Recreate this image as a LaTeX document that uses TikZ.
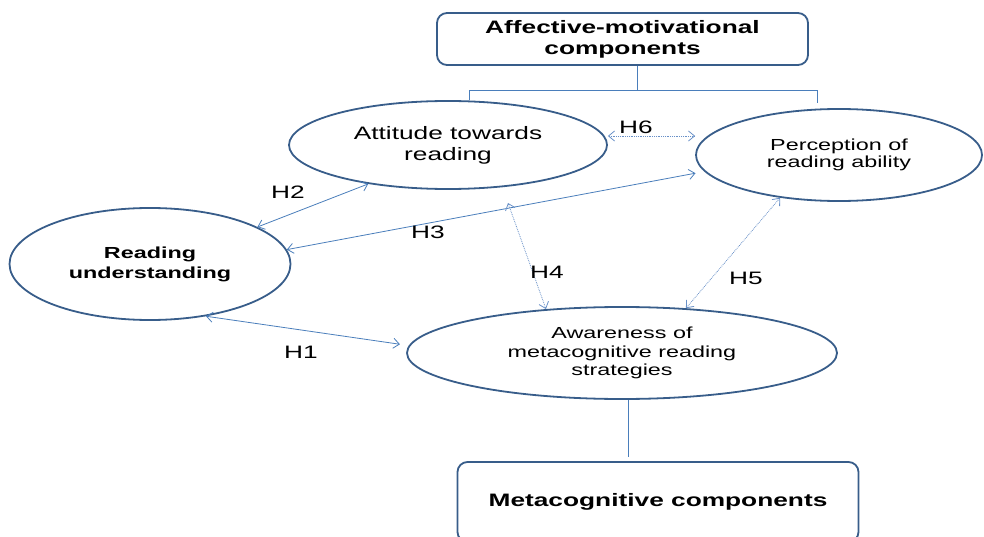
\documentclass[tikz,border=0pt]{standalone}
\usepackage{fontspec}
\setmainfont{Liberation Sans}[FakeStretch=1.46]
\usetikzlibrary{shapes.geometric,arrows.meta}
\definecolor{edgeblue}{RGB}{56,93,138}
\definecolor{linkblue}{RGB}{74,126,187}
\definecolor{dotblue}{RGB}{105,145,200}
\begin{document}
\begin{tikzpicture}[x=1pt,y=-1pt,
  oval/.style={ellipse, draw=edgeblue, line width=1.8pt, inner sep=0pt, align=center, text=black},
  roundbox/.style={draw=edgeblue, line width=1.8pt, rounded corners=10pt, align=center, inner sep=0pt,
    font=\fontsize{18}{21}\selectfont\bfseries},
  link/.style={draw=linkblue, line width=0.8pt, {Straight Barb[length=6pt,width=10pt]}-{Straight Barb[length=6pt,width=10pt]}},
  dotlink/.style={link, draw=dotblue, densely dotted},
  tree/.style={draw=linkblue, line width=0.8pt},
  hlab/.style={font=\fontsize{18}{20}\selectfont, inner sep=0pt}]
\useasboundingbox (0,0) rectangle (984,537);

\node[roundbox, minimum width=371pt, minimum height=52pt] (amc) at (622.5,39) {Affective-motivational\\components};
\node[oval, minimum width=318pt, minimum height=88pt, font=\fontsize{18}{21}\selectfont] (att) at (448,145) {Attitude towards\\reading};
\node[oval, minimum width=286pt, minimum height=92pt, font=\fontsize{16}{17}\selectfont] (perc) at (839,155) {Perception of\\reading ability};
\node[oval, minimum width=281pt, minimum height=112pt, font=\fontsize{16}{20}\selectfont\bfseries] (ru) at (150,264) {Reading\\understanding};
\node[oval, minimum width=430pt, minimum height=92pt, font=\fontsize{16}{18.5}\selectfont] (aw) at (622,353) {Awareness of\\metacognitive reading\\strategies};
\node[roundbox, minimum width=401pt, minimum height=80pt] (mc) at (658,502) {Metacognitive components};

% tree connectors
\coordinate (tj) at (637,90);
\coordinate (tl) at (469,90);
\coordinate (tr) at (817,90);
\coordinate (trend) at (817,103);
\draw[tree] (amc.south -| tj) -- (tj);
\draw[tree] (tl |- att.north) -- (tl) -- (tr) -- (trend);
\coordinate (mj) at (628,457);
\draw[tree] (aw.south -| mj) -- (mj);

% hypotheses
\draw[link, shorten >=9pt] (ru.-43) -- (aw.178.5);
\draw[link] (ru.19.6) -- (att.-154.9);
\draw[link, shorten >=9pt] (ru.6.4) -- (perc.187.2);
\coordinate (h4top) at (508,203);
\draw[dotlink] (h4top) -- (aw.150.7);
\draw[dotlink] (aw.35.3) -- (perc.-144.5);
\draw[dotlink] ([yshift=9pt]att.east) -- ([yshift=9pt]att.east -| perc.west);

\node[hlab] (h1) at (301,352) {H1};
\node[hlab] (h2) at (288,192) {H2};
\node[hlab] (h3) at (428,232) {H3};
\node[hlab] (h4) at (547,272) {H4};
\node[hlab] (h5) at (746,278) {H5};
\node[hlab] (h6) at (636,127) {H6};
\end{tikzpicture}
\end{document}
